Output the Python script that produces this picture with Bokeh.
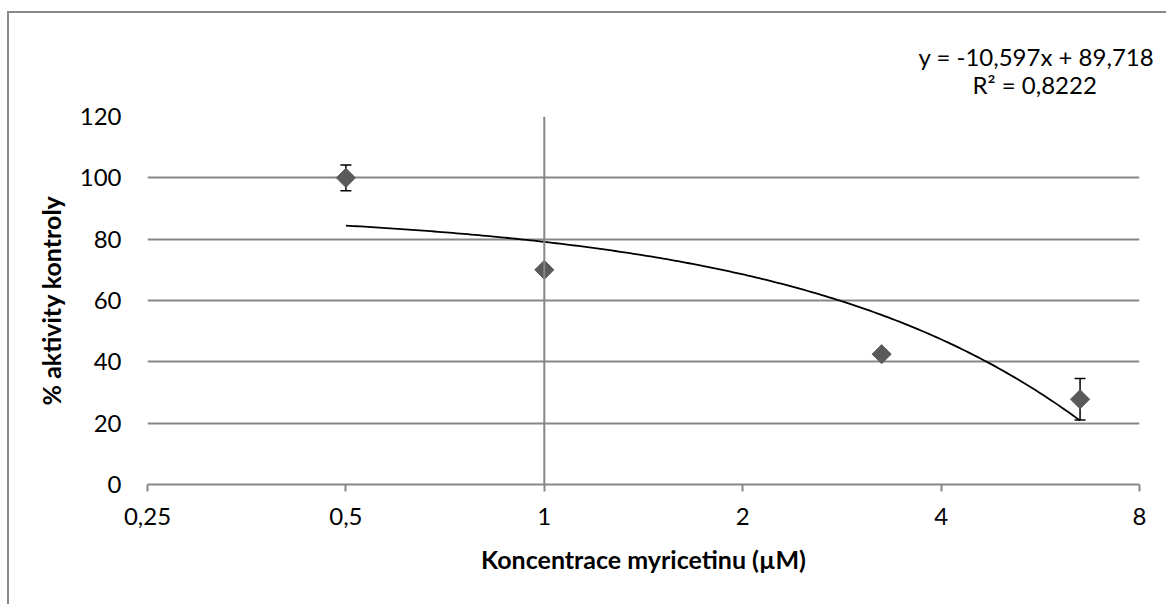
import numpy as np
from bokeh.plotting import figure
from bokeh.models import (ColumnDataSource, FixedTicker, CustomJSTickFormatter,
                          Span, Whisker, TeeHead, Title)
from bokeh.embed import file_html
from bokeh.resources import INLINE

# ---- data ----
conc = [0.5, 1.0, 3.25, 6.5]             # µM
activity = [100.0, 70.0, 42.5, 27.8]      # % of control
err = [4.2, 0.0, 0.0, 6.8]
x_ticks = [0.25, 0.5, 1, 2, 4, 8]
y_ticks = [0, 20, 40, 60, 80, 100, 120]
slope = -10.597
intercept = 89.718
eq_text = "y = -10,597x + 89,718"
r2_text = "R² = 0,8222"
x_title = "Koncentrace myricetinu (µM)"
y_title = "% aktivity kontroly"

FONT = "Lato"
FS = "24px"
FS_T = "25px"
GRID = "#878787"
TEXT = "#000000"

p = figure(width=1159, height=593, x_axis_type="log",
           x_range=(0.25, 8), y_range=(0, 120), title=None,
           output_backend="svg", toolbar_location=None,
           min_border_left=138, min_border_right=29,
           min_border_top=103, min_border_bottom=122)
p.styles = {"border-left": "2px solid #898989", "border-top": "2px solid #898989",
            "margin-left": "7px", "margin-top": "11px"}
p.outline_line_color = None
p.background_fill_color = "white"
p.border_fill_color = "white"

# grids
p.xgrid.visible = False
p.ygrid.ticker = FixedTicker(ticks=y_ticks)
p.ygrid.grid_line_color = GRID
p.ygrid.grid_line_width = 2

# x axis
xa = p.xaxis[0]
xa.ticker = FixedTicker(ticks=x_ticks)
xa.formatter = CustomJSTickFormatter(code="return tick.toString().replace('.', ',')")
xa.axis_line_color = GRID
xa.axis_line_width = 2
xa.major_tick_line_color = GRID
xa.major_tick_line_width = 2
xa.major_tick_out = 7
xa.major_tick_in = 0
xa.minor_tick_line_color = None
xa.major_label_text_font = FONT
xa.major_label_text_font_size = FS
xa.major_label_text_color = TEXT
xa.major_label_standoff = 16
xa.axis_label = x_title
xa.axis_label_text_font = FONT
xa.axis_label_text_font_style = "bold"
xa.axis_label_text_font_size = FS_T
xa.axis_label_text_color = TEXT
xa.axis_label_standoff = 16

# y axis
ya = p.yaxis[0]
ya.ticker = FixedTicker(ticks=y_ticks)
ya.axis_line_color = None
ya.major_tick_line_color = None
ya.minor_tick_line_color = None
ya.major_tick_out = 0
ya.major_tick_in = 0
ya.major_label_text_font = FONT
ya.major_label_text_font_size = FS
ya.major_label_text_color = TEXT
ya.major_label_standoff = 26
ya.axis_label = y_title
ya.axis_label_text_font = FONT
ya.axis_label_text_font_style = "bold"
ya.axis_label_text_font_size = FS_T
ya.axis_label_text_color = TEXT
ya.axis_label_standoff = 11

# vertical axis line crossing at x = 1
p.add_layout(Span(location=1, dimension="height", line_color=GRID, line_width=2))

# trend line (Excel linear trendline shown on the log axis)
xt = np.geomspace(min(conc), max(conc), 200)
p.line(xt, slope * xt + intercept, line_color="black", line_width=1.8)

# error bars
src = ColumnDataSource(dict(x=conc, y=activity,
                            lo=[a - e for a, e in zip(activity, err)],
                            hi=[a + e for a, e in zip(activity, err)]))
wh = Whisker(base="x", upper="hi", lower="lo", source=src, dimension="height",
             line_color="black", line_width=1.5, level="underlay",
             upper_head=TeeHead(size=11, line_color="black", line_width=1.5),
             lower_head=TeeHead(size=11, line_color="black", line_width=1.5))
p.add_layout(wh)

# markers
p.scatter("x", "y", source=src, marker="square", size=13.5, angle=np.pi / 4,
          fill_color="#5a5a5a", line_color="#5a5a5a")

# trendline equation (stacked titles above the plot area, with a spacer)
p.add_layout(Title(text=" ", align="left", standoff=13, text_font=FONT,
                   text_font_size="1px", text_color=TEXT), "above")
p.add_layout(Title(text=r2_text, align="left", offset=825, standoff=4,
                   text_font=FONT, text_font_size=FS, text_font_style="normal",
                   text_color=TEXT), "above")
p.add_layout(Title(text=eq_text, align="left", offset=771, standoff=-10,
                   text_font=FONT, text_font_size=FS, text_font_style="normal",
                   text_color=TEXT), "above")

open("out.html", "w").write(file_html(p, INLINE))
